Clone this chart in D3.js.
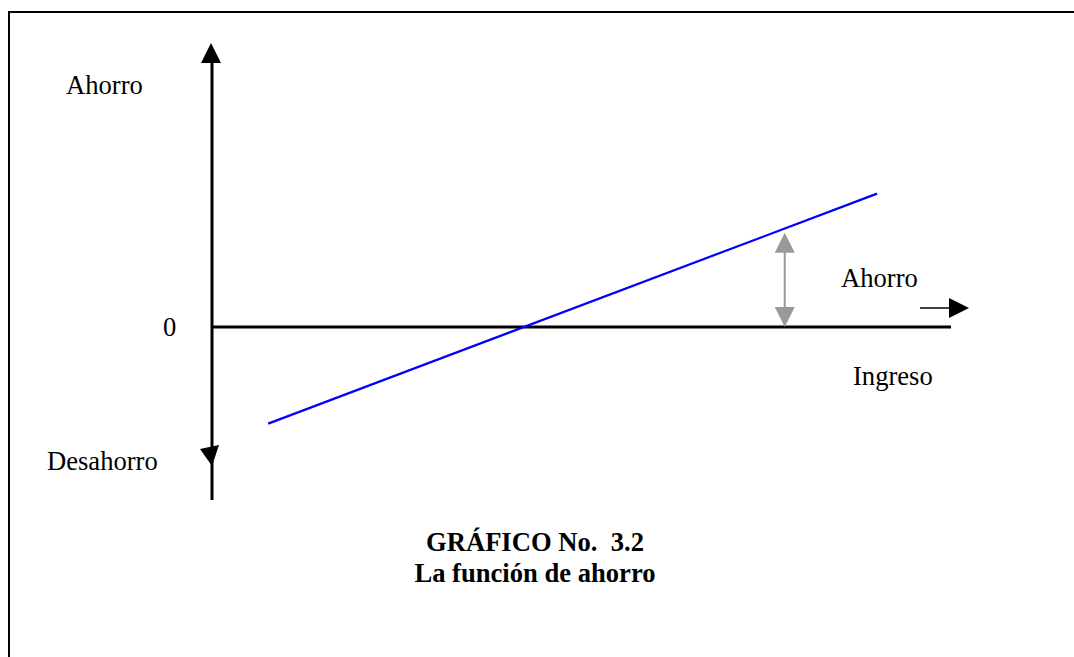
<!DOCTYPE html>
<html>
<head>
<meta charset="utf-8">
<script src="https://cdn.jsdelivr.net/npm/d3@7"></script>
<style>
html,body{margin:0;padding:0;background:#fff;}
svg{display:block;}
text{font-family:"Liberation Serif","Times New Roman",serif;fill:#000;}
</style>
</head>
<body>
<script>
// Data (abstract units)
const ingreso = [7.6, 90];          // income at ends of the savings line
const ahorro = [-42, 58];           // savings at ends of the line
const marcaIngreso = [77.5];        // income where savings arrow is drawn
const marcaAhorro = [41];           // savings shown by the gray arrow
const titulo = ["GRÁFICO No.  3.2", "La función de ahorro"];

const W = 1074, H = 657;
const svg = d3.select("body").append("svg").attr("width", W).attr("height", H);

const x = d3.scaleLinear().domain([0, 100]).range([212, 951]);
const y = d3.scaleLinear().domain([-100, 100]).range([557, 97]);

// border frame
svg.append("path").attr("d", `M9,${H+5} V12 H${W+5}`)
  .attr("fill", "none").attr("stroke", "#000").attr("stroke-width", 2);

// vertical axis
svg.append("line").attr("x1", x(0)).attr("x2", x(0)).attr("y1", 60).attr("y2", 500)
  .attr("stroke", "#000").attr("stroke-width", 3);
// up arrow head
svg.append("path").attr("d", `M${x(0)-1},43 L${x(0)+9},63 L${x(0)-11},63 Z`).attr("fill", "#000");
// down arrow head
svg.append("path").attr("d", `M200,449 L219,445 L${x(0)},466 Z`).attr("fill", "#000");

// horizontal axis (zero line)
svg.append("line").attr("x1", x(0)).attr("x2", x(100)).attr("y1", y(0)).attr("y2", y(0))
  .attr("stroke", "#000").attr("stroke-width", 3);

// separate right arrow
svg.append("line").attr("x1", 920).attr("x2", 952).attr("y1", 308).attr("y2", 308)
  .attr("stroke", "#000").attr("stroke-width", 1.5);
svg.append("path").attr("d", "M949,298 L969,308 L949,318 Z").attr("fill", "#000");

// savings function line
const pts = ingreso.map((v, i) => [x(v), y(ahorro[i])]);
svg.append("path").attr("d", d3.line()(pts))
  .attr("fill", "none").attr("stroke", "#0000ff").attr("stroke-width", 2.2);

// gray double arrow
const gx = x(marcaIngreso[0]), gt = y(marcaAhorro[0]), gb = y(0);
svg.append("line").attr("x1", gx).attr("x2", gx).attr("y1", gt + 18).attr("y2", gb - 18)
  .attr("stroke", "#999").attr("stroke-width", 2);
svg.append("path").attr("d", `M${gx},${gt} L${gx+10},${gt+20} L${gx-10},${gt+20} Z`).attr("fill", "#999");
svg.append("path").attr("d", `M${gx},${gb} L${gx+10},${gb-20} L${gx-10},${gb-20} Z`).attr("fill", "#999");

// labels
const fs = 26.6;
function label(t, px, py, anchor, bold) {
  svg.append("text").attr("x", px).attr("y", py).attr("font-size", fs)
    .attr("text-anchor", anchor || "start")
    .attr("font-weight", bold ? "bold" : "normal")
    .style("white-space", "pre")
    .text(t);
}
label("Ahorro", 66, 94);
label("0", 163, 336);
label("Desahorro", 47, 470);
label("Ahorro", 841, 287);
label("Ingreso", 853, 385);
label(titulo[0], 535, 551, "middle", true);
label(titulo[1], 535, 582, "middle", true);
</script>
</body>
</html>
